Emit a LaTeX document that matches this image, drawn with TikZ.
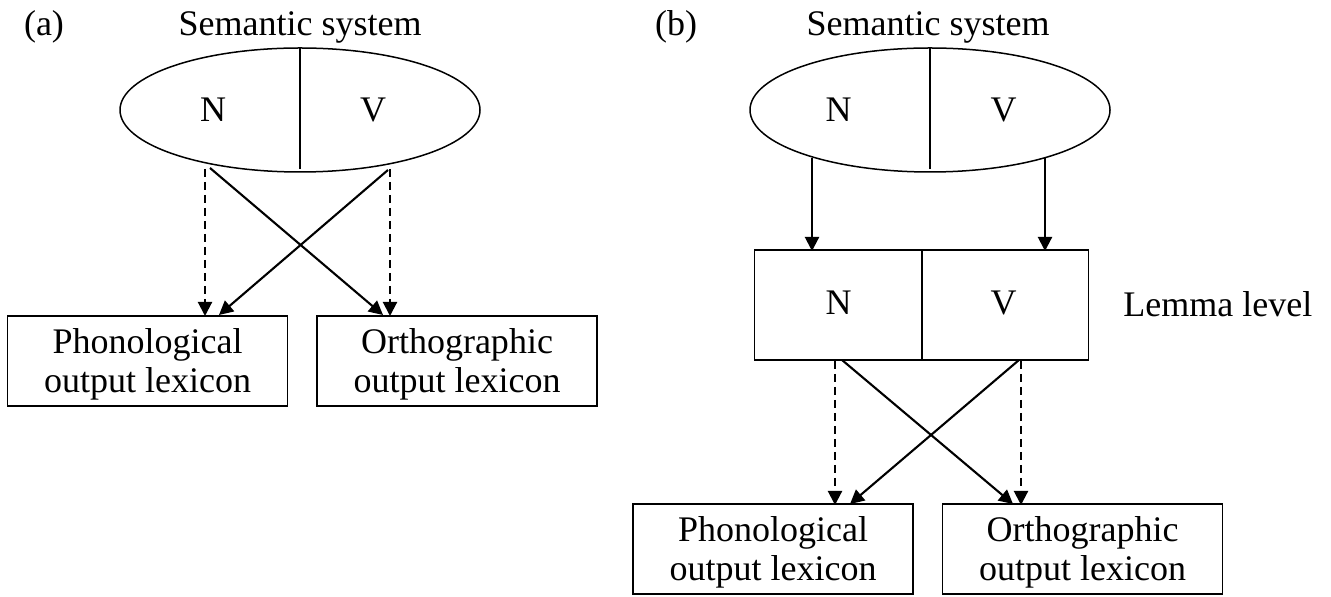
\documentclass[tikz,border=0pt]{standalone}
\usepackage{fontspec}
\setmainfont{Liberation Serif}
\usetikzlibrary{shapes.geometric,arrows.meta}
\newcommand\lextoppad{\rule{0pt}{16.3pt}}
\begin{document}
\begin{tikzpicture}[x=0.5pt,y=-0.5pt,
  txt/.style={font=\fontsize{18}{19.5}\selectfont, inner sep=0pt},
  sem/.style={ellipse, draw, line width=0.75pt, minimum width=180pt, minimum height=62pt, inner sep=0pt},
  lexbox/.style={draw, line width=0.9pt, minimum width=140pt, minimum height=45pt, inner sep=0pt, align=center, font=\fontsize{18}{19.5}\selectfont},
  lemmabox/.style={draw, line width=0.9pt, minimum width=167pt, minimum height=55pt, inner sep=0pt},
  divider/.style={line width=0.75pt},
  solidarrow/.style={line width=1.05pt, -{Triangle[length=7pt,width=7pt]}},
  dasharrow/.style={solidarrow, dash pattern=on 4pt off 2.5pt}
]
\useasboundingbox (0,0) rectangle (1331,597);

% ---------- panel (a) ----------
\node[txt, anchor=base] (labA) at (44,36) {(a)};
\node[txt, anchor=base] (titA) at (300,36) {Semantic system};
\node[sem] (semA) at (300,110) {};
\draw[divider] (semA.north) -- ([yshift=2pt]semA.south);
\node[txt, anchor=base] (nA) at (213,122) {N};
\node[txt, anchor=base] (vA) at (373,122) {V};

\node[lexbox] (phonA) at (147.5,361) {\lextoppad Phonological\\output lexicon};
\node[lexbox] (orthA) at (457,361) {\lextoppad Orthographic\\output lexicon};

\coordinate (aNd) at (205,169);
\coordinate (aNs) at (210,168);
\coordinate (aVd) at (390,169);
\coordinate (aVs) at (388,170);
\coordinate (aPd) at (205,316);
\coordinate (aPs) at (219,315);
\coordinate (aOd) at (390,316);
\coordinate (aOs) at (383,315);
\draw[dasharrow] (aNd) -- (aPd);
\draw[solidarrow] (aNs) -- (aOs);
\draw[dasharrow] (aVd) -- (aOd);
\draw[solidarrow] (aVs) -- (aPs);

% ---------- panel (b) ----------
\node[txt, anchor=base] (labB) at (676,36) {(b)};
\node[txt, anchor=base] (titB) at (928,36) {Semantic system};
\node[sem] (semB) at (930,110) {};
\draw[divider] (semB.north) -- ([yshift=2pt]semB.south);
\node[txt, anchor=base] (nB) at (838.5,122) {N};
\node[txt, anchor=base] (vB) at (1003.5,122) {V};

\node[lemmabox] (lemma) at (921.5,305) {};
\draw[divider] (lemma.north -| 922,0) -- (lemma.south -| 922,0);
\node[txt, anchor=base] (nL) at (838.5,315) {N};
\node[txt, anchor=base] (vL) at (1003.5,315) {V};
\node[txt, anchor=base west] (lemlab) at (1123,317) {Lemma level};

\coordinate (bNo) at (812,158);
\coordinate (bVo) at (1045,158);
\coordinate (bNl) at (812,251);
\coordinate (bVl) at (1045,251);
\draw[solidarrow] (bNo) -- (bNl);
\draw[solidarrow] (bVo) -- (bVl);

\node[lexbox] (phonB) at (773,549) {\lextoppad Phonological\\output lexicon};
\node[lexbox] (orthB) at (1082.5,549) {\lextoppad Orthographic\\output lexicon};

\coordinate (bNd) at (835,361);
\coordinate (bNs) at (842,360);
\coordinate (bVd) at (1021,361);
\coordinate (bVs) at (1019,360);
\coordinate (bPd) at (835,505);
\coordinate (bPs) at (850,504);
\coordinate (bOd) at (1021,505);
\coordinate (bOs) at (1013,504);
\draw[dasharrow] (bNd) -- (bPd);
\draw[solidarrow] (bNs) -- (bOs);
\draw[dasharrow] (bVd) -- (bOd);
\draw[solidarrow] (bVs) -- (bPs);
\end{tikzpicture}
\end{document}
